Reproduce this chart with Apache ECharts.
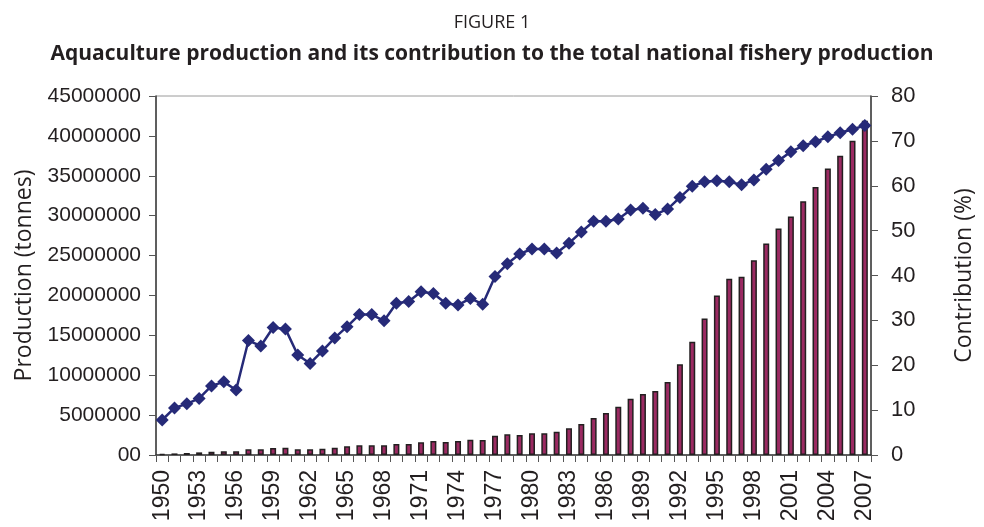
<html>
<head>
    <meta charset="utf-8">
    <script src="https://cdn.jsdelivr.net/npm/echarts@6/dist/echarts.min.js"></script>
    <style>
        html, body { margin: 0; padding: 0; background: #fff; }
        #main { width: 984px; height: 527px; }
    </style>
</head>
<body>
    <div id="main"></div>
    <script>
        // years 1950 - 2007
        var years = [];
        for (var y = 1950; y <= 2007; y++) years.push(String(y));

        // aquaculture production (tonnes)
        var production = [
            130000, 200000, 250000, 330000, 420000, 460000, 460000, 710000, 710000, 880000,
            920000, 710000, 710000, 790000, 920000, 1090000, 1210000, 1210000, 1210000, 1380000,
            1380000, 1590000, 1750000, 1630000, 1750000, 1920000, 1880000, 2420000, 2590000, 2510000,
            2720000, 2720000, 2920000, 3340000, 3890000, 4640000, 5260000, 6060000, 7060000, 7650000,
            8020000, 9150000, 11370000, 14200000, 17100000, 20000000, 22100000, 22350000, 24400000, 26500000,
            28400000, 29900000, 31800000, 33600000, 35900000, 37500000, 39400000, 41900000
        ];

        // contribution to total national fishery production (%)
        var contribution = [
            7.8, 10.5, 11.4, 12.6, 15.4, 16.3, 14.5, 25.5, 24.3, 28.4,
            28.1, 22.3, 20.4, 23.2, 26.1, 28.6, 31.3, 31.3, 29.9, 33.8,
            34.2, 36.4, 36.0, 33.8, 33.4, 34.9, 33.6, 39.8, 42.6, 44.8,
            45.9, 45.9, 45.0, 47.2, 49.7, 52.1, 52.1, 52.6, 54.6, 55.0,
            53.6, 54.8, 57.4, 59.9, 60.9, 61.1, 60.9, 60.2, 61.3, 63.7,
            65.6, 67.6, 68.9, 69.8, 70.9, 71.8, 72.6, 73.4
        ];

        var myChart = echarts.init(document.getElementById('main'));

        var axisFont = 'Liberation Sans, Arial, sans-serif';
        var textColor = '#231f20';

        var option = {
            backgroundColor: '#fff',
            animation: false,
            title: [{
                text: 'FIGURE 1',
                left: 'center',
                top: 9,
                textStyle: { fontFamily: 'Open Sans', fontSize: 18, fontWeight: 'normal', color: textColor }
            }, {
                text: 'Aquaculture production and its contribution to the total national fishery production',
                left: 'center',
                top: 39,
                textStyle: { fontFamily: 'Open Sans', fontSize: 21, fontWeight: 'bold', color: textColor }
            }],
            grid: {
                left: 156,
                right: 108,
                top: 96,
                bottom: 72,
                show: true,
                borderColor: '#9a9a9a',
                borderWidth: 1
            },
            xAxis: {
                type: 'category',
                data: years,
                boundaryGap: true,
                axisLine: { lineStyle: { color: '#3a3a3a', width: 1.5 } },
                axisTick: { show: true, interval: 0, length: 7, lineStyle: { color: '#555' } },
                axisLabel: {
                    interval: 2,
                    rotate: 90,
                    margin: 15,
                    fontFamily: axisFont,
                    fontSize: 23,
                    color: textColor
                }
            },
            yAxis: [{
                type: 'value',
                min: 0,
                max: 45000000,
                interval: 5000000,
                position: 'left',
                name: 'Production (tonnes)',
                nameLocation: 'middle',
                nameGap: 120,
                nameRotate: 90,
                nameTextStyle: { fontFamily: 'Open Sans', fontSize: 23, color: textColor },
                axisLine: { show: true, lineStyle: { color: '#3a3a3a', width: 1.5 } },
                axisTick: { show: true, length: 7, lineStyle: { color: '#555' } },
                splitLine: { show: false },
                axisLabel: {
                    margin: 15,
                    fontFamily: axisFont,
                    fontSize: 21,
                    color: textColor,
                    formatter: function (v) { return v === 0 ? '00' : String(v); }
                }
            }, {
                type: 'value',
                min: 0,
                max: 80,
                interval: 10,
                position: 'right',
                name: 'Contribution (%)',
                nameLocation: 'middle',
                nameGap: 82,
                nameRotate: 90,
                nameTextStyle: { fontFamily: 'Open Sans', fontSize: 23, color: textColor },
                axisLine: { show: true, lineStyle: { color: '#3a3a3a', width: 1.5 } },
                axisTick: { show: true, length: 7, lineStyle: { color: '#555' } },
                splitLine: { show: false },
                axisLabel: {
                    margin: 20,
                    fontFamily: axisFont,
                    fontSize: 22,
                    color: textColor
                }
            }],
            series: [{
                name: 'Production',
                type: 'bar',
                yAxisIndex: 0,
                data: production,
                barWidth: 6,
                itemStyle: {
                    color: '#9b2a62',
                    borderColor: '#231f20',
                    borderWidth: 1.5
                },
                z: 2
            }, {
                name: 'Contribution',
                type: 'line',
                yAxisIndex: 1,
                data: contribution,
                showAllSymbol: true,
                symbol: 'diamond',
                symbolSize: 13,
                lineStyle: { color: '#262a78', width: 2.5 },
                itemStyle: { color: '#262a78' },
                z: 3
            }]
        };

        myChart.setOption(option);
    </script>
</body>
</html>
